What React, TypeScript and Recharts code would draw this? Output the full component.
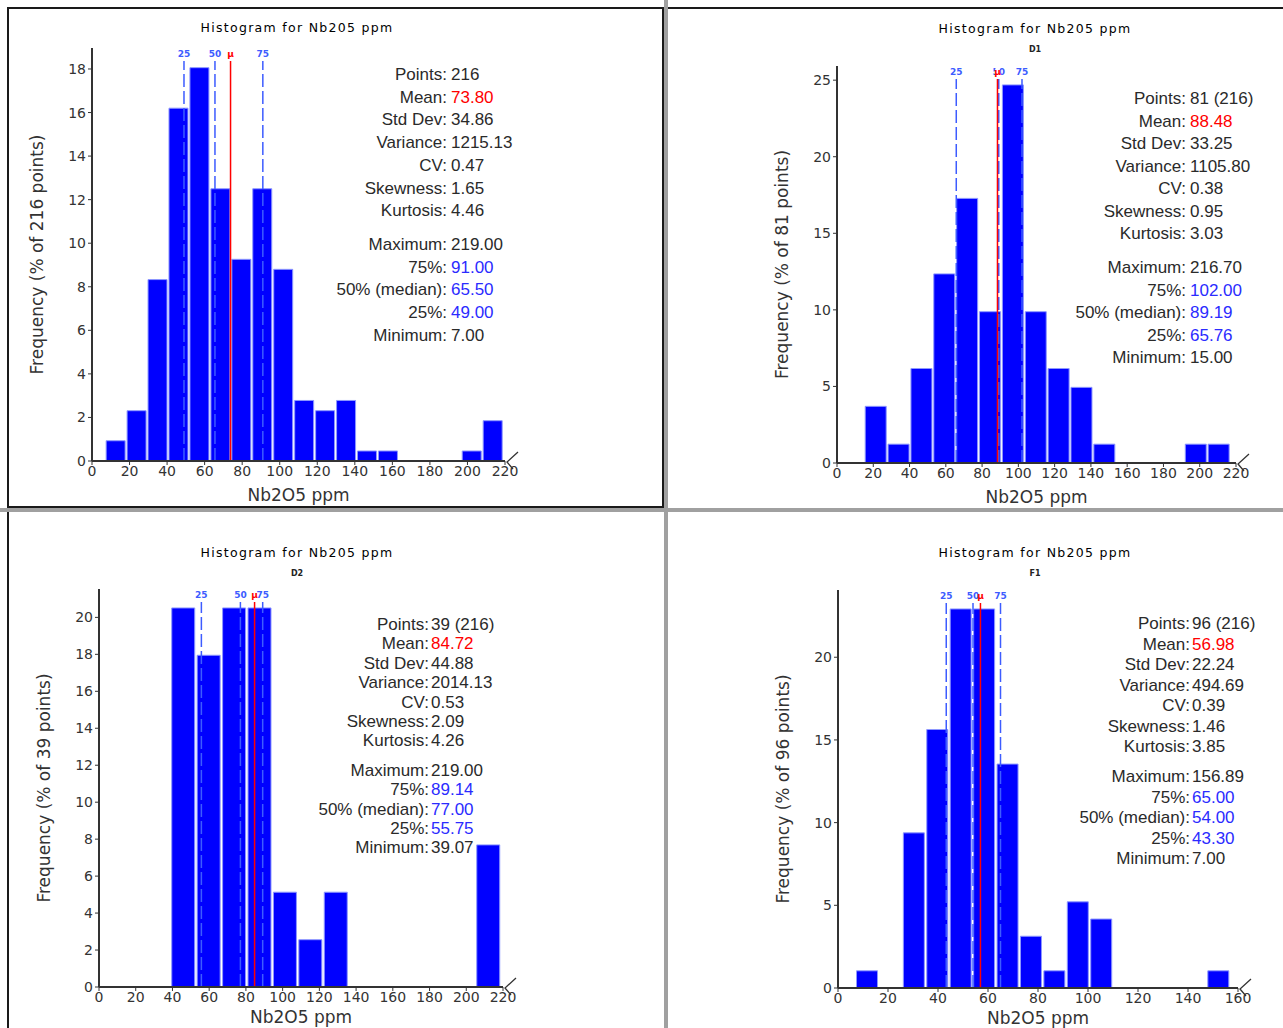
import React from 'react';
import { BarChart, Bar, XAxis, YAxis, ReferenceLine, Label } from 'recharts';

// Nb2O5 histograms: all samples first, then the D1, D2 and F1 groups.
// Bin centres are in ppm, heights in % of the points of each group.

const allBins = [12.58, 23.74, 34.89, 46.05, 57.21, 68.37, 79.53, 90.68, 101.84, 113.0, 124.16, 135.32, 146.47, 157.63, 168.79, 179.95, 191.11, 202.26, 213.42];
const allFreq = [0.93, 2.31, 8.33, 16.2, 18.06, 12.5, 9.26, 12.5, 8.8, 2.78, 2.31, 2.78, 0.46, 0.46, 0, 0, 0, 0.46, 1.85];

const d1Bins = [21.3, 33.91, 46.52, 59.12, 71.73, 84.33, 96.94, 109.55, 122.15, 134.76, 147.36, 159.97, 172.58, 185.18, 197.79, 210.39];
const d1Freq = [3.7, 1.23, 6.17, 12.35, 17.28, 9.88, 24.69, 9.88, 6.17, 4.94, 1.23, 0, 0, 0, 1.23, 1.23];

const d2Bins = [45.99, 59.83, 73.68, 87.52, 101.36, 115.2, 129.04, 142.88, 156.72, 170.56, 184.4, 198.24, 212.08];
const d2Freq = [20.51, 17.95, 20.51, 20.51, 5.13, 2.56, 5.13, 0, 0, 0, 0, 0, 7.69];

const f1Bins = [11.68, 21.05, 30.42, 39.79, 49.16, 58.53, 67.9, 77.26, 86.63, 96.0, 105.37, 114.74, 124.1, 133.47, 142.84, 152.21];
const f1Freq = [1.04, 0, 9.38, 15.63, 22.92, 22.92, 13.54, 3.13, 1.04, 5.21, 4.17, 0, 0, 0, 0, 1.04];

const xTicks220 = [0, 20, 40, 60, 80, 100, 120, 140, 160, 180, 200, 220];
const xTicks160 = [0, 20, 40, 60, 80, 100, 120, 140, 160];
const yTicksAll = [0, 2, 4, 6, 8, 10, 12, 14, 16, 18];
const yTicksD1 = [0, 5, 10, 15, 20, 25];
const yTicksD2 = [0, 2, 4, 6, 8, 10, 12, 14, 16, 18, 20];
const yTicksF1 = [0, 5, 10, 15, 20];

// quartiles and mean of each group
const allMarks = { q25: 49.0, q50: 65.5, q75: 91.0, mean: 73.8 };
const d1Marks = { q25: 65.76, q50: 89.19, q75: 102.0, mean: 88.48 };
const d2Marks = { q25: 55.75, q50: 77.0, q75: 89.14, mean: 84.72 };
const f1Marks = { q25: 43.3, q50: 54.0, q75: 65.0, mean: 56.98 };

const statLabels = ['Points', 'Mean', 'Std Dev', 'Variance', 'CV', 'Skewness', 'Kurtosis', 'Maximum', '75%', '50% (median)', '25%', 'Minimum'];
const allStats = ['216', '73.80', '34.86', '1215.13', '0.47', '1.65', '4.46', '219.00', '91.00', '65.50', '49.00', '7.00'];
const d1Stats = ['81 (216)', '88.48', '33.25', '1105.80', '0.38', '0.95', '3.03', '216.70', '102.00', '89.19', '65.76', '15.00'];
const d2Stats = ['39 (216)', '84.72', '44.88', '2014.13', '0.53', '2.09', '4.26', '219.00', '89.14', '77.00', '55.75', '39.07'];
const f1Stats = ['96 (216)', '56.98', '22.24', '494.69', '0.39', '1.46', '3.85', '156.89', '65.00', '54.00', '43.30', '7.00'];

const AXIS_FONT = '"DejaVu Sans", Verdana, sans-serif';
const STAT_FONT = '"Liberation Sans", Arial, sans-serif';
const INK = '#333';
const QBLUE = '#3d5cff';
const MEAN_RED = '#ff0000';

type Marks = { q25: number; q50: number; q75: number; mean: number };

// small tag on top of a quartile / mean line; the white strip keeps the line clear of the tag
const LineTag = (props: any) => {
  const { viewBox, text, color } = props;
  if (!viewBox) return null;
  const { x, y } = viewBox;
  return (
    <g>
      <rect x={x - 2} y={y} width={4} height={13} fill="#fff" />
      <text x={x} y={y + 9} textAnchor="middle" fontSize={9} fontWeight="bold" fill={color} fontFamily={AXIS_FONT}>
        {text}
      </text>
    </g>
  );
};

// "<" break mark at the right end of the x axis
const AxisBreak = (props: any) => {
  const { viewBox } = props;
  if (!viewBox) return null;
  const ex = viewBox.x + viewBox.width;
  const ey = viewBox.y;
  return (
    <polyline
      points={`${ex + 13},${ey - 9} ${ex + 2},${ey + 1} ${ex + 8},${ey + 8}`}
      fill="none"
      stroke={INK}
      strokeWidth={1.3}
    />
  );
};

interface HistProps {
  left: number;
  top: number;
  width: number;
  height: number;
  margin: { top: number; right: number; bottom: number; left: number };
  xHeight: number;
  bins: number[];
  freq: number[];
  xMax: number;
  xTicks: number[];
  yTicks: number[];
  points: number;
  marks: Marks;
}

const Histogram: React.FC<HistProps> = ({ left, top, width, height, margin, xHeight, bins, freq, xMax, xTicks, yTicks, points, marks }) => {
  const rows = bins.map((bin, i) => ({ bin, freq: freq[i] }));
  const tick = { fontSize: 14, fill: INK, fontFamily: AXIS_FONT };
  return (
    <div style={{ position: 'absolute', left, top }}>
      <BarChart width={width} height={height} data={rows} margin={margin} barCategoryGap={1}>
        <XAxis
          type="number"
          dataKey="bin"
          domain={[0, xMax]}
          ticks={xTicks}
          interval={0}
          height={xHeight}
          tickSize={4}
          tickMargin={1}
          tick={tick}
          axisLine={{ stroke: INK, strokeWidth: 2 }}
          tickLine={{ stroke: INK }}
        >
          <Label value="Nb2O5 ppm" position="insideBottom" offset={2} style={{ fontSize: 17, fill: INK, fontFamily: AXIS_FONT }} />
          <Label content={<AxisBreak />} />
        </XAxis>
        <YAxis
          type="number"
          domain={[0, (m: number) => m * 1.05]}
          ticks={yTicks}
          interval={0}
          width={60}
          tickSize={4}
          tickMargin={2}
          tick={tick}
          axisLine={{ stroke: INK, strokeWidth: 2 }}
          tickLine={{ stroke: INK }}
        >
          <Label
            value={`Frequency (% of ${points} points)`}
            angle={-90}
            position="insideLeft"
            offset={5}
            style={{ textAnchor: 'middle', fontSize: 17, fill: INK, fontFamily: AXIS_FONT }}
          />
        </YAxis>
        <Bar dataKey="freq" fill="#0000ff" stroke="#8e98ff" strokeWidth={1} isAnimationActive={false} />
        <ReferenceLine x={marks.q25} stroke={QBLUE} strokeWidth={1.5} strokeDasharray="13 4" label={<LineTag text="25" color={QBLUE} />} />
        <ReferenceLine x={marks.q50} stroke={QBLUE} strokeWidth={1.5} strokeDasharray="13 4" label={<LineTag text="50" color={QBLUE} />} />
        <ReferenceLine x={marks.q75} stroke={QBLUE} strokeWidth={1.5} strokeDasharray="13 4" label={<LineTag text="75" color={QBLUE} />} />
        <ReferenceLine x={marks.mean} stroke={MEAN_RED} strokeWidth={1.5} label={<LineTag text="μ" color={MEAN_RED} />} />
      </BarChart>
    </div>
  );
};

interface StatProps {
  values: string[];
  colonX: number;
  firstY: number;
  lineH: number;
  extra: number;
  gap: number;
}

// summary block: right-aligned names, left-aligned values
const StatBlock: React.FC<StatProps> = ({ values, colonX, firstY, lineH, extra, gap }) => (
  <>
    {statLabels.map((label, i) => {
      const cy = firstY + i * lineH + (i >= 7 ? extra : 0);
      const color = i === 1 ? MEAN_RED : i >= 8 && i <= 10 ? '#2b2bff' : '#2a2a2a';
      const common: React.CSSProperties = {
        position: 'absolute',
        top: cy - 10,
        lineHeight: '20px',
        fontSize: 17,
        fontFamily: STAT_FONT,
        whiteSpace: 'nowrap',
      };
      return (
        <React.Fragment key={label}>
          <div style={{ ...common, right: 1283 - colonX, textAlign: 'right', color: '#2a2a2a' }}>{label}:</div>
          <div style={{ ...common, left: colonX + gap, color }}>{values[i]}</div>
        </React.Fragment>
      );
    })}
  </>
);

const Title: React.FC<{ cx: number; cy: number; sub?: string }> = ({ cx, cy, sub }) => (
  <>
    <div
      style={{
        position: 'absolute',
        left: cx - 150,
        width: 300,
        top: cy - 8,
        lineHeight: '16px',
        textAlign: 'center',
        fontFamily: AXIS_FONT,
        fontSize: 12.5,
        letterSpacing: 1.3,
        color: '#000',
      }}
    >
      Histogram for Nb205 ppm
    </div>
    {sub && (
      <div
        style={{
          position: 'absolute',
          left: cx - 30,
          width: 60,
          top: cy + 15,
          lineHeight: '12px',
          textAlign: 'center',
          fontFamily: AXIS_FONT,
          fontSize: 8,
          fontWeight: 'bold',
          color: '#222',
        }}
      >
        {sub}
      </div>
    )}
  </>
);

const App: React.FC = () => {
  return (
    <div style={{ position: 'absolute', left: 0, top: 0, width: 1283, height: 1028, background: '#fff', overflow: 'hidden' }}>
      {/* window frames */}
      <div style={{ position: 'absolute', left: 7, top: 7, width: 1276, height: 2, background: '#1a1a1a' }} />
      <div style={{ position: 'absolute', left: 7, top: 7, width: 2, height: 1021, background: '#1a1a1a' }} />
      <div style={{ position: 'absolute', left: 662, top: 7, width: 2, height: 501, background: '#1a1a1a' }} />
      <div style={{ position: 'absolute', left: 7, top: 506, width: 657, height: 2, background: '#1a1a1a' }} />
      <div style={{ position: 'absolute', left: 664, top: 0, width: 4, height: 1028, background: '#a0a0a0' }} />
      <div style={{ position: 'absolute', left: 0, top: 508, width: 1283, height: 4, background: '#a0a0a0' }} />

      <Histogram
        left={0}
        top={0}
        width={560}
        height={510}
        margin={{ top: 48, right: 55, bottom: 7, left: 32 }}
        xHeight={42}
        bins={allBins}
        freq={allFreq}
        xMax={220}
        xTicks={xTicks220}
        yTicks={yTicksAll}
        points={216}
        marks={allMarks}
      />
      <Histogram
        left={720}
        top={0}
        width={560}
        height={510}
        margin={{ top: 66, right: 44, bottom: 5, left: 57 }}
        xHeight={42}
        bins={d1Bins}
        freq={d1Freq}
        xMax={220}
        xTicks={xTicks220}
        yTicks={yTicksD1}
        points={81}
        marks={d1Marks}
      />
      <Histogram
        left={0}
        top={510}
        width={560}
        height={518}
        margin={{ top: 79, right: 57, bottom: 3, left: 39 }}
        xHeight={38}
        bins={d2Bins}
        freq={d2Freq}
        xMax={220}
        xTicks={xTicks220}
        yTicks={yTicksD2}
        points={39}
        marks={d2Marks}
      />
      <Histogram
        left={720}
        top={510}
        width={560}
        height={518}
        margin={{ top: 80, right: 42, bottom: 2, left: 58 }}
        xHeight={38}
        bins={f1Bins}
        freq={f1Freq}
        xMax={160}
        xTicks={xTicks160}
        yTicks={yTicksF1}
        points={96}
        marks={f1Marks}
      />

      <Title cx={297} cy={28} />
      <Title cx={1035} cy={29} sub="D1" />
      <Title cx={297} cy={553} sub="D2" />
      <Title cx={1035} cy={553} sub="F1" />

      <StatBlock values={allStats} colonX={447} firstY={75} lineH={22.7} extra={11} gap={4} />
      <StatBlock values={d1Stats} colonX={1186} firstY={99} lineH={22.5} extra={11.5} gap={4} />
      <StatBlock values={d2Stats} colonX={429} firstY={625} lineH={19.4} extra={10} gap={2} />
      <StatBlock values={f1Stats} colonX={1190} firstY={624} lineH={20.5} extra={9.5} gap={2} />
    </div>
  );
};

export default App;
